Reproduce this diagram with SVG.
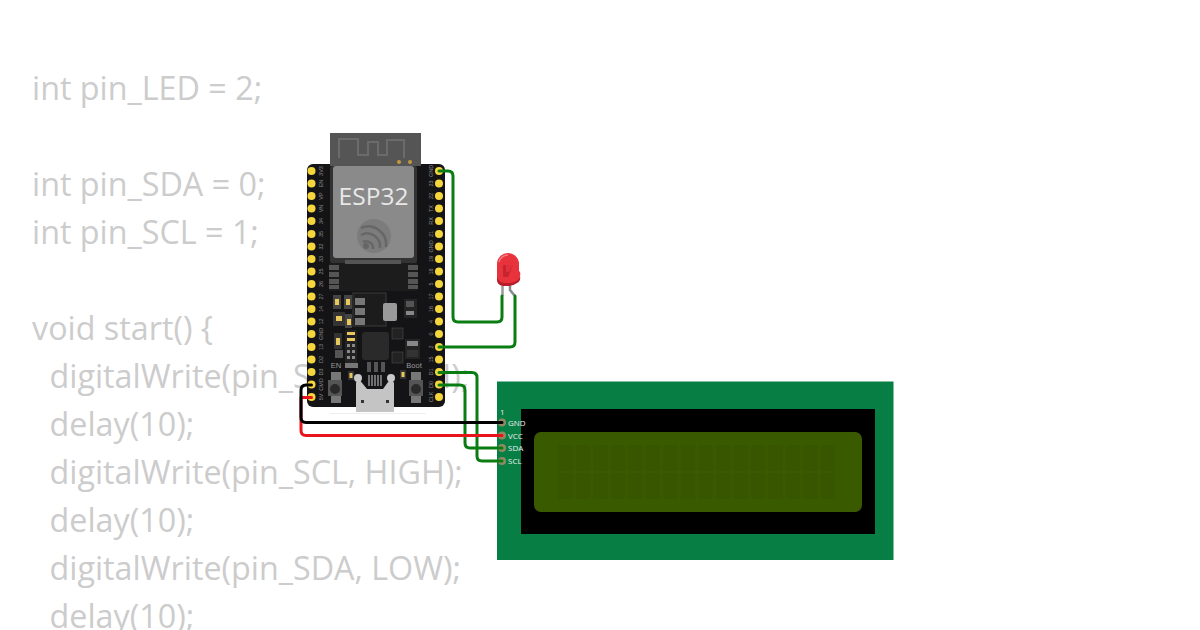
<svg xmlns="http://www.w3.org/2000/svg" width="1200" height="630" viewBox="0 0 1200 630">
<style>
.code{font-family:"Open Sans","Noto Sans",sans-serif;font-size:32.3px;fill:#ccc}
.pl{font-family:"Liberation Sans",Arial,sans-serif;font-size:5.5px;fill:#888;text-anchor:middle}
.lcdt{font-family:"Open Sans","Noto Sans",sans-serif;font-size:8px;fill:#eee}
.w{fill:none;stroke-width:3;stroke-linecap:round;stroke-linejoin:round}
.g{stroke:#0a7d12}.k{stroke:#000}.r{stroke:#e8141c}
.pin{fill:#f5d63d}
.ch{fill:#385600}
.sm{fill:#555}
.cap{fill:#e8c85a}
</style>
<rect width="1200" height="630" fill="#fff"/>
<g id="code">
<text class="code" x="32" y="100">int pin_LED = 2;</text>
<text class="code" x="32" y="196">int pin_SDA = 0;</text>
<text class="code" x="32" y="244">int pin_SCL = 1;</text>
<text class="code" x="32" y="340">void start() {</text>
<text class="code" x="49.500" y="388">digitalWrite(pin_SDA, HIGH);</text>
<text class="code" x="49.500" y="436">delay(10);</text>
<text class="code" x="49.500" y="484">digitalWrite(pin_SCL, HIGH);</text>
<text class="code" x="49.500" y="532">delay(10);</text>
<text class="code" x="49.500" y="580">digitalWrite(pin_SDA, LOW);</text>
<text class="code" x="49.500" y="628">delay(10);</text>
</g>
<g id="lcd">
<rect x="497" y="381.500" width="396.500" height="178.500" fill="#077f44"/>
<rect x="521" y="409" width="354" height="125" fill="#000"/>
<rect x="534" y="432" width="328" height="80" rx="7" fill="#3a5a00"/>
<g id="lcd-chars">
<rect class="ch" x="558" y="445" width="15" height="26"/><rect class="ch" x="575.500" y="445" width="15" height="26"/><rect class="ch" x="593" y="445" width="15" height="26"/><rect class="ch" x="610.500" y="445" width="15" height="26"/><rect class="ch" x="628" y="445" width="15" height="26"/><rect class="ch" x="645.500" y="445" width="15" height="26"/><rect class="ch" x="663" y="445" width="15" height="26"/><rect class="ch" x="680.500" y="445" width="15" height="26"/><rect class="ch" x="698" y="445" width="15" height="26"/><rect class="ch" x="715.500" y="445" width="15" height="26"/><rect class="ch" x="733" y="445" width="15" height="26"/><rect class="ch" x="750.500" y="445" width="15" height="26"/><rect class="ch" x="768" y="445" width="15" height="26"/><rect class="ch" x="785.500" y="445" width="15" height="26"/><rect class="ch" x="803" y="445" width="15" height="26"/><rect class="ch" x="820.500" y="445" width="15" height="26"/>
<rect class="ch" x="558" y="473" width="15" height="26"/><rect class="ch" x="575.500" y="473" width="15" height="26"/><rect class="ch" x="593" y="473" width="15" height="26"/><rect class="ch" x="610.500" y="473" width="15" height="26"/><rect class="ch" x="628" y="473" width="15" height="26"/><rect class="ch" x="645.500" y="473" width="15" height="26"/><rect class="ch" x="663" y="473" width="15" height="26"/><rect class="ch" x="680.500" y="473" width="15" height="26"/><rect class="ch" x="698" y="473" width="15" height="26"/><rect class="ch" x="715.500" y="473" width="15" height="26"/><rect class="ch" x="733" y="473" width="15" height="26"/><rect class="ch" x="750.500" y="473" width="15" height="26"/><rect class="ch" x="768" y="473" width="15" height="26"/><rect class="ch" x="785.500" y="473" width="15" height="26"/><rect class="ch" x="803" y="473" width="15" height="26"/><rect class="ch" x="820.500" y="473" width="15" height="26"/>
</g>
<g fill="#8f8a62"><circle cx="502" cy="422.500" r="4"/><circle cx="502" cy="435.500" r="4"/><circle cx="502" cy="448" r="4"/><circle cx="502" cy="461" r="4"/></g>
<text class="lcdt" x="500" y="415">1</text>
<text class="lcdt" x="508" y="425.500">GND</text>
<text class="lcdt" x="508" y="438.500">VCC</text>
<text class="lcdt" x="508" y="451">SDA</text>
<text class="lcdt" x="508" y="464">SCL</text>
</g>
<g id="esp32">
<rect x="307" y="164" width="138" height="243" rx="6" fill="#141416"/>
<rect x="330" y="133" width="91" height="33" fill="#555"/>
<path d="M339 158V139H358V155H368V142H378V155H387V140H404V158" fill="none" stroke="#6b6b6b" stroke-width="2"/>
<circle cx="399" cy="162" r="2" fill="#c29a3a"/><circle cx="410" cy="162" r="2" fill="#c29a3a"/>
<rect x="330" y="166" width="87" height="97" rx="2" fill="#333"/>
<rect x="333" y="166" width="81" height="92" rx="3" fill="#8a8a8a"/>
<text x="373.500" y="205" text-anchor="middle" font-family="'Open Sans','Noto Sans',sans-serif" font-size="24.500" fill="#e8e8e8">ESP32</text>
<circle cx="374" cy="236" r="17" fill="#7c7c7c"/>
<path d="M361 228a18 18 0 0 1 25 19M361 235a13 13 0 0 1 19 13M363 242a7 7 0 0 1 10 7" fill="none" stroke="#676767" stroke-width="2.500"/>
<circle cx="366" cy="246" r="3" fill="#666"/>
<g id="module-base">
<rect x="329" y="263" width="88" height="28" fill="#1c1c1c"/>
<rect x="329" y="265" width="10" height="5" class="sm"/><rect x="329" y="272" width="10" height="5" class="sm"/><rect x="329" y="279" width="10" height="5" class="sm"/><rect x="329" y="285" width="10" height="4" class="sm"/>
<rect x="408" y="265" width="10" height="5" class="sm"/><rect x="408" y="272" width="10" height="5" class="sm"/><rect x="408" y="279" width="10" height="5" class="sm"/><rect x="408" y="285" width="10" height="4" class="sm"/>
<rect x="345" y="260" width="56" height="4" fill="#555"/>
</g>
<g id="board-parts">
<rect x="353" y="293" width="33" height="33" fill="#1c1c1c" stroke="#3a3a3a"/>
<rect x="383" y="303" width="14" height="18" rx="2" fill="#999"/>
<rect x="355" y="298" width="10" height="7" fill="#777"/><rect x="355" y="308" width="10" height="7" fill="#777"/><rect x="355" y="318" width="10" height="7" fill="#777"/>
<rect x="333" y="295" width="8" height="14" fill="#444"/><rect x="335" y="299" width="4" height="6" class="cap"/>
<rect x="344" y="295" width="8" height="14" fill="#444"/><rect x="346" y="299" width="4" height="6" class="cap"/>
<rect x="333" y="312" width="12" height="14" fill="#333"/><rect x="336" y="316" width="6" height="5" class="cap"/>
<rect x="345" y="314" width="7" height="14" fill="#444"/><rect x="347" y="319" width="4" height="6" class="cap"/>
<rect x="404" y="299" width="13" height="19" fill="#242424"/><rect x="406" y="301" width="8" height="6" fill="#555"/><rect x="406" y="311" width="8" height="4" fill="#888"/>
<rect x="392" y="328" width="11" height="11" fill="#222" stroke="#555" stroke-width=".5"/>
<rect x="392" y="352" width="11" height="11" fill="#222" stroke="#555" stroke-width=".5"/>
<rect x="405" y="339" width="15" height="20" fill="#242424"/><rect x="407" y="341" width="11" height="5" fill="#888"/><rect x="407" y="350" width="11" height="7" fill="#333"/>
<rect x="362" y="332" width="27" height="28" rx="3" fill="#2a2a2a"/>
<rect x="334" y="333" width="8" height="16" fill="#333"/><rect x="336" y="338" width="4" height="7" class="cap"/>
<rect x="335" y="350" width="8" height="8" fill="#555"/>
<rect x="345" y="330" width="12" height="35" fill="#222"/>
<rect x="347" y="332" width="8" height="3" class="cap"/><rect x="347" y="338" width="8" height="3" class="cap"/><rect x="347" y="344" width="3" height="3" fill="#888"/><rect x="352" y="344" width="3" height="3" fill="#888"/><rect x="347" y="350" width="3" height="3" fill="#888"/><rect x="352" y="350" width="3" height="3" fill="#888"/><rect x="347" y="356" width="3" height="3" fill="#888"/><rect x="352" y="356" width="3" height="3" fill="#888"/>
<rect x="345" y="363" width="13" height="5" fill="#777"/>
<rect x="367" y="362" width="4" height="10" fill="#555"/><rect x="374" y="362" width="4" height="10" fill="#555"/><rect x="381" y="362" width="4" height="10" fill="#555"/>
<rect x="348" y="371" width="6" height="9" fill="#333"/><rect x="349.500" y="373" width="3" height="5" class="cap"/>
<rect x="400" y="370" width="6" height="9" fill="#333"/><rect x="401.500" y="372" width="3" height="5" class="cap"/>
</g>
<text x="336" y="368" text-anchor="middle" font-family="'Liberation Sans',Arial,sans-serif" font-size="7.500" fill="#999">EN</text>
<text x="414" y="368" text-anchor="middle" font-family="'Liberation Sans',Arial,sans-serif" font-size="7.500" fill="#999">Boot</text>
<rect x="331" y="372" width="10" height="8" fill="#777"/><rect x="331" y="396" width="10" height="7" fill="#777"/><rect x="328" y="380" width="14" height="16" fill="#555"/><circle cx="335" cy="389" r="5" fill="#2a2a2a"/>
<rect x="411" y="372" width="10" height="8" fill="#777"/><rect x="411" y="396" width="10" height="7" fill="#777"/><rect x="409" y="380" width="14" height="16" fill="#555"/><circle cx="416" cy="389" r="5" fill="#2a2a2a"/>
<path d="M358 378L367 389H383L391 378L394 383V412H356V383Z" fill="#c4c4c4"/>
<circle cx="358" cy="378" r="4" fill="#c8c8c8"/><circle cx="391" cy="378" r="4" fill="#c8c8c8"/>
<path d="M369 375V386M372 375V386M375 375V386M378 375V386M381 375V386" stroke="#ccc" stroke-width="1"/>
<rect x="361" y="400" width="3" height="3" fill="#333"/><rect x="386" y="400" width="3" height="3" fill="#333"/>
<rect x="330" y="413" width="96" height="1" fill="#eee"/>
</g>
<g id="esp-pins">
<g class="pin">
<circle cx="311.500" cy="171" r="4"/><circle cx="311.500" cy="183.500" r="4"/><circle cx="311.500" cy="196" r="4"/><circle cx="311.500" cy="208.500" r="4"/><circle cx="311.500" cy="221" r="4"/><circle cx="311.500" cy="234" r="4"/><circle cx="311.500" cy="246.500" r="4"/><circle cx="311.500" cy="259" r="4"/><circle cx="311.500" cy="271.500" r="4"/><circle cx="311.500" cy="284" r="4"/><circle cx="311.500" cy="296.500" r="4"/><circle cx="311.500" cy="309" r="4"/><circle cx="311.500" cy="321.500" r="4"/><circle cx="311.500" cy="334" r="4"/><circle cx="311.500" cy="347" r="4"/><circle cx="311.500" cy="359.500" r="4"/><circle cx="311.500" cy="372" r="4"/><circle cx="311.500" cy="384.500" r="4"/><circle cx="311.500" cy="397" r="4"/>
<circle cx="439" cy="171" r="4"/><circle cx="439" cy="183.500" r="4"/><circle cx="439" cy="196" r="4"/><circle cx="439" cy="208.500" r="4"/><circle cx="439" cy="221" r="4"/><circle cx="439" cy="234" r="4"/><circle cx="439" cy="246.500" r="4"/><circle cx="439" cy="259" r="4"/><circle cx="439" cy="271.500" r="4"/><circle cx="439" cy="284" r="4"/><circle cx="439" cy="296.500" r="4"/><circle cx="439" cy="309" r="4"/><circle cx="439" cy="321.500" r="4"/><circle cx="439" cy="334" r="4"/><circle cx="439" cy="347" r="4"/><circle cx="439" cy="359.500" r="4"/><circle cx="439" cy="372" r="4"/><circle cx="439" cy="384.500" r="4"/><circle cx="439" cy="397" r="4"/>
</g>
<g class="pl">
<text transform="translate(323,171) rotate(-90)">3V3</text><text transform="translate(323,183.500) rotate(-90)">EN</text><text transform="translate(323,196) rotate(-90)">VP</text><text transform="translate(323,208.500) rotate(-90)">VN</text><text transform="translate(323,221) rotate(-90)">34</text><text transform="translate(323,234) rotate(-90)">35</text><text transform="translate(323,246.500) rotate(-90)">32</text><text transform="translate(323,259) rotate(-90)">33</text><text transform="translate(323,271.500) rotate(-90)">25</text><text transform="translate(323,284) rotate(-90)">26</text><text transform="translate(323,296.500) rotate(-90)">27</text><text transform="translate(323,309) rotate(-90)">14</text><text transform="translate(323,321.500) rotate(-90)">12</text><text transform="translate(323,334) rotate(-90)">GND</text><text transform="translate(323,347) rotate(-90)">13</text><text transform="translate(323,359.500) rotate(-90)">D2</text><text transform="translate(323,372) rotate(-90)">D3</text><text transform="translate(323,384.500) rotate(-90)">CMD</text><text transform="translate(323,397) rotate(-90)">5V</text>
<text transform="translate(433,171) rotate(-90)">GND</text><text transform="translate(433,183.500) rotate(-90)">23</text><text transform="translate(433,196) rotate(-90)">22</text><text transform="translate(433,208.500) rotate(-90)">TX</text><text transform="translate(433,221) rotate(-90)">RX</text><text transform="translate(433,234) rotate(-90)">21</text><text transform="translate(433,246.500) rotate(-90)">GND</text><text transform="translate(433,259) rotate(-90)">19</text><text transform="translate(433,271.500) rotate(-90)">18</text><text transform="translate(433,284) rotate(-90)">5</text><text transform="translate(433,296.500) rotate(-90)">17</text><text transform="translate(433,309) rotate(-90)">16</text><text transform="translate(433,321.500) rotate(-90)">4</text><text transform="translate(433,334) rotate(-90)">0</text><text transform="translate(433,347) rotate(-90)">2</text><text transform="translate(433,359.500) rotate(-90)">15</text><text transform="translate(433,372) rotate(-90)">D1</text><text transform="translate(433,384.500) rotate(-90)">D0</text><text transform="translate(433,397) rotate(-90)">CLK</text>
</g>
</g>
<g id="led">
<path d="M502.500 284V296" stroke="#999" stroke-width="2.500" fill="none"/>
<path d="M510 285V290L515 296" stroke="#888" stroke-width="2.500" fill="none"/>
<path d="M497 264a11 11 0 0 1 22 0V271q2 1 1 5q-2 7-10 8H504q-7 0-7-6Z" fill="#e8323c"/>
<path d="M497 276q1 6 7 7h6q8-1 10-7q1 5-3 7q-4 3-8 3H503q-6-1-6-6Z" fill="#b81d28"/>
<path d="M503 265H513L508 277H503Z" fill="#c8242e"/>
<path d="M506 265H513L509 272H506Z" fill="#e2333d" opacity=".9"/>
<path d="M499 262a9 9 0 0 1 9-7" stroke="#f57a80" stroke-width="1.500" fill="none"/>
</g>
<g id="connectors">
<path class="w g" d="M439 171H448Q453 171 453 176V317Q453 322 458 322H497Q502 322 502 317V296"/>
<path class="w g" d="M439 347H510Q515 347 515 342V296"/>
<path class="w g" d="M439 372.500H472Q477 372.500 477 377.500V456Q477 461 482 461H502"/>
<path class="w g" d="M439 385H460Q465 385 465 390V443Q465 448 470 448H502"/>
<path class="w r" d="M311.500 397.500H301V430.500Q301 435.500 306 435.500H502"/>
<path class="w k" d="M311.500 385H306Q301 385 301 390V417.500Q301 422.500 306 422.500H502"/>
</g>
</svg>
